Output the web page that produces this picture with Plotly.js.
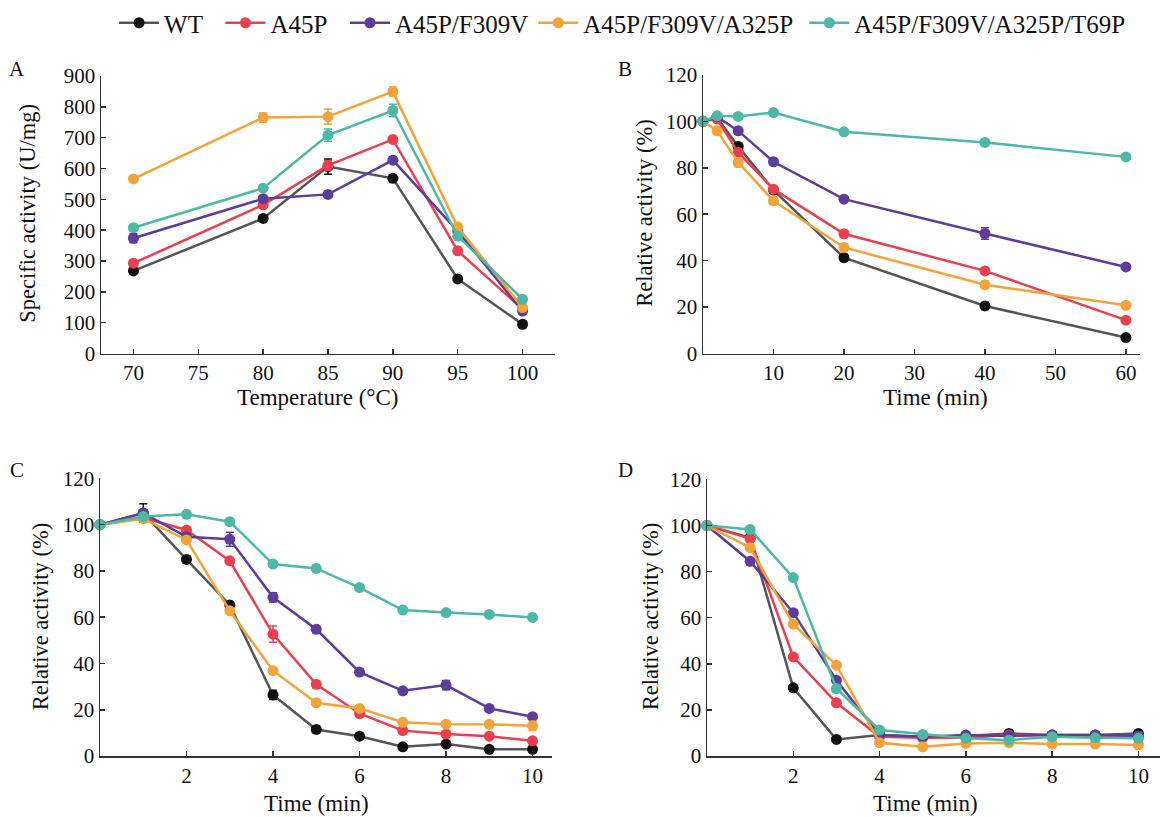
<!DOCTYPE html>
<html>
<head>
<meta charset="utf-8">
<script src="https://cdn.plot.ly/plotly-3.0.1.min.js"></script>
<style>html,body{margin:0;padding:0;background:#fff}#chart{width:1164px;height:817px}</style>
</head>
<body>
<div id="chart"></div>
<script>
// ---- Data ----
const seriesNames = ["WT", "A45P", "A45P/F309V", "A45P/F309V/A325P", "A45P/F309V/A325P/T69P"];

// Panel A: specific activity vs temperature
const tempX = [70, 80, 85, 90, 95, 100];
const aWT    = [268, 438, 606, 568, 242, 95];
const aA45P  = [293, 482, 610, 694, 333, 144];
const aF309V = [374, 502, 516, 627, 397, 138];
const aA325P = [566, 765, 768, 849, 410, 149];
const aT69P  = [408, 536, 708, 788, 381, 176];
const aErrWT    = [8, 8, 25, 8, 8, 10];
const aErrA45P  = [8, 8, 15, 8, 8, 8];
const aErrF309V = [15, 8, 8, 10, 8, 8];
const aErrA325P = [8, 15, 25, 15, 8, 8];
const aErrT69P  = [8, 8, 20, 20, 8, 8];

// Panel B: relative activity vs time (min)
const timeB = [0, 2, 5, 10, 20, 40, 60];
const bWT    = [100, 101.5, 89.2, 70.4, 41.3, 20.5, 6.9];
const bA45P  = [100, 101, 86.6, 70.8, 51.6, 35.6, 14.4];
const bF309V = [100, 102, 95.9, 82.6, 66.5, 51.7, 37.3];
const bA325P = [100, 95.9, 82.3, 65.8, 45.7, 29.6, 20.8];
const bT69P  = [100, 102.4, 102.1, 103.8, 95.5, 90.9, 84.7];
const bErrWT    = [1, 1, 1.5, 1, 1.5, 1.5, 1];
const bErrA45P  = [1, 1, 1.5, 1, 1, 1, 1];
const bErrF309V = [1, 1, 1.5, 1, 1, 2.5, 1];
const bErrA325P = [1, 1.5, 2, 1.5, 1.5, 1.5, 1];
const bErrT69P  = [1, 1, 1, 1, 1, 1, 1];

// Panel C: relative activity vs time (min)
const timeC = [0, 1, 2, 3, 4, 5, 6, 7, 8, 9, 10];
const cWT    = [100, 105, 85, 65.3, 26.4, 11.5, 8.6, 4, 5.2, 2.9, 2.9];
const cA45P  = [100, 103, 97.7, 84.4, 52.7, 31, 18.4, 11, 9.5, 8.6, 6.6];
const cF309V = [100, 105, 94.8, 93.7, 68.6, 54.8, 36.3, 28.2, 30.7, 20.6, 17];
const cA325P = [100, 102.6, 93.4, 62.8, 36.9, 23, 20.6, 14.6, 13.8, 13.7, 13.1];
const cT69P  = [100, 103.5, 104.5, 101.3, 83, 81.1, 72.8, 63.1, 62, 61.2, 59.9];
const cErrWT    = [1, 4, 1.5, 1.5, 2, 1.5, 1, 1, 1, 1, 1];
const cErrA45P  = [1, 1.5, 1, 1, 3.5, 1.5, 1, 1, 1, 1, 1];
const cErrF309V = [1, 1.5, 1, 3, 2, 1.5, 1, 1, 2, 1, 1];
const cErrA325P = [1, 1, 1, 1, 1, 1, 1, 1, 1, 1, 2];
const cErrT69P  = [1, 1, 1, 1, 1, 1, 1, 1, 1, 1, 1];

// Panel D: relative activity vs time (min)
const timeD = [0, 1, 2, 3, 4, 5, 6, 7, 8, 9, 10];
const dWT    = [100, 94.7, 29.6, 7.2, 9.1, 8.4, 8.7, 9.8, 9.1, 9.1, 9.8];
const dA45P  = [100, 94.3, 43, 23.1, 8.4, 7.9, 7.9, 9.1, 9.1, 8.4, 8.4];
const dF309V = [100, 84.5, 62.2, 32.9, 9.1, 8.4, 9.1, 8.7, 9.1, 9.1, 8.7];
const dA325P = [100, 90.4, 57.2, 39.4, 5.8, 4, 5.5, 5.8, 5.2, 5.2, 4.8];
const dT69P  = [100, 98.3, 77.4, 29.3, 11.3, 9.4, 7.7, 6.9, 8.4, 7.9, 7.7];
const dErr   = [1, 1, 1, 1, 1, 1, 1, 1, 1, 1, 1];

// ---- Styles ----
const lineColors   = ["#555555", "#e8404f", "#5c3d99", "#f2a43a", "#4cb8a5"];
const markerColors = ["#111111", "#e8404f", "#5c3d99", "#f2a43a", "#4cb8a5"];
const legendPad    = [2, 2, 0, 1, 0]; // extra spacing after legend labels
const FONT = "Liberation Serif, Times New Roman, serif";

const panels = [
  {x: tempX, ys: [aWT, aA45P, aF309V, aA325P, aT69P], errs: [aErrWT, aErrA45P, aErrF309V, aErrA325P, aErrT69P], ax: ""},
  {x: timeB, ys: [bWT, bA45P, bF309V, bA325P, bT69P], errs: [bErrWT, bErrA45P, bErrF309V, bErrA325P, bErrT69P], ax: "2"},
  {x: timeC, ys: [cWT, cA45P, cF309V, cA325P, cT69P], errs: [cErrWT, cErrA45P, cErrF309V, cErrA325P, cErrT69P], ax: "3"},
  {x: timeD, ys: [dWT, dA45P, dF309V, dA325P, dT69P], errs: [dErr, dErr, dErr, dErr, dErr], ax: "4"}
];

const traces = [];
panels.forEach((p, pi) => {
  p.ys.forEach((y, si) => {
    traces.push({
      type: "scatter", mode: "lines+markers",
      x: p.x, y: y,
      name: seriesNames[si] + "\u00a0".repeat(legendPad[si]),
      legendgroup: seriesNames[si],
      showlegend: pi === 0,
      xaxis: "x" + p.ax, yaxis: "y" + p.ax,
      line: {color: lineColors[si], width: 2.5},
      marker: {color: markerColors[si], size: 11, symbol: "circle"},
      error_y: {type: "data", array: p.errs[si], visible: true, color: markerColors[si], thickness: 1.5, width: 4},
      cliponaxis: false
    });
  });
});

function axisBase(domain, range, tickvals) {
  return {
    domain: domain, range: range, tickvals: tickvals,
    showline: true, linecolor: "#333", linewidth: 1.5,
    ticks: "inside", ticklen: 5, tickwidth: 1.5, tickcolor: "#333",
    showgrid: false, zeroline: false, mirror: false,
    tickfont: {family: FONT, size: 21, color: "#111"},
    fixedrange: true
  };
}

const yTicks120 = [0, 20, 40, 60, 80, 100, 120];
const layout = {
  width: 1164, height: 817,
  margin: {l: 0, r: 0, t: 0, b: 0},
  paper_bgcolor: "#fff", plot_bgcolor: "#fff",
  font: {family: FONT, size: 20, color: "#111"},
  showlegend: true,
  legend: {
    orientation: "h", x: 0.098, y: 1 - 22 / 817, xanchor: "left", yanchor: "middle",
    font: {family: FONT, size: 25, color: "#111"}, itemwidth: 40, tracegroupgap: 0
  },
  xaxis:  axisBase([101/1164, 555/1164], [67.5, 102.5], [70, 75, 80, 85, 90, 95, 100]),
  yaxis:  axisBase([1 - 353/817, 1 - 75/817], [0, 900], [0,100,200,300,400,500,600,700,800,900]),
  xaxis2: axisBase([703/1164, 1140/1164], [0, 62], [10, 20, 30, 40, 50, 60]),
  yaxis2: axisBase([1 - 353/817, 1 - 74/817], [0, 120], yTicks120),
  xaxis3: axisBase([100/1164, 552/1164], [0, 10.45], [2, 4, 6, 8, 10]),
  yaxis3: axisBase([1 - 756/817, 1 - 478/817], [0, 120], yTicks120),
  xaxis4: axisBase([707/1164, 1160/1164], [0, 10.5], [2, 4, 6, 8, 10]),
  yaxis4: axisBase([1 - 756/817, 1 - 479/817], [0, 120], yTicks120),
  annotations: []
};
layout.xaxis.anchor = "y"; layout.yaxis.anchor = "x";
layout.xaxis2.anchor = "y2"; layout.yaxis2.anchor = "x2";
layout.xaxis3.anchor = "y3"; layout.yaxis3.anchor = "x3";
layout.xaxis4.anchor = "y4"; layout.yaxis4.anchor = "x4";

function ann(text, xpx, ypx, angle, size) {
  layout.annotations.push({
    text: text, xref: "paper", yref: "paper",
    x: xpx / 1164, y: 1 - ypx / 817, xanchor: "center", yanchor: "middle",
    showarrow: false, textangle: angle || 0,
    font: {family: FONT, size: size || 21, color: "#111"}
  });
}
// panel letters
ann("A", 17, 68, 0, 21); ann("B", 625, 68, 0, 21);
ann("C", 17, 470, 0, 21); ann("D", 625, 470, 0, 21);
// axis titles
ann("Temperature (°C)", 318, 397, 0, 23);
ann("Time (min)", 935, 397, 0, 23);
ann("Time (min)", 316, 803, 0, 23);
ann("Time (min)", 925, 803, 0, 23);
ann("Specific activity (U/mg)", 28, 213, -90, 22.5);
ann("Relative activity (%)", 645, 213, -90, 22.5);
ann("Relative activity (%)", 40, 617, -90, 22.5);
ann("Relative activity (%)", 650, 617, -90, 22.5);

Plotly.newPlot("chart", traces, layout, {displayModeBar: false, staticPlot: true});
</script>
</body>
</html>
